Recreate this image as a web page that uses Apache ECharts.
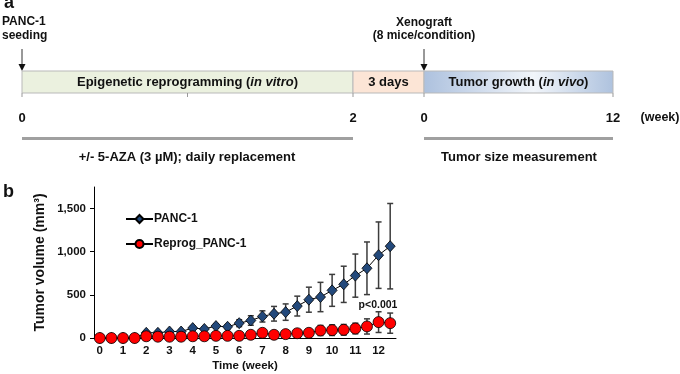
<!DOCTYPE html>
<html>
<head>
<meta charset="utf-8">
<script src="https://cdn.jsdelivr.net/npm/echarts@6/dist/echarts.min.js"></script>
<style>
  html, body { margin: 0; padding: 0; background: #fff; }
  #chart { width: 680px; height: 374px; }
</style>
</head>
<body>
<div id="chart"></div>
<script>
const FONT = '"Liberation Sans", Arial, sans-serif';

// panel a: timeline labels
const phaseLabels = ['Epigenetic reprogramming', '3 days', 'Tumor growth'];
const timelineTicks = ['0', '2', '0', '12'];

// panel b: weeks after xenograft (half-week steps)
const weeks = ['0', '0.5', '1', '1.5', '2', '2.5', '3', '3.5', '4', '4.5', '5', '5.5', '6',
  '6.5', '7', '7.5', '8', '8.5', '9', '9.5', '10', '10.5', '11', '11.5', '12', '12.5'];
const panc1 = [0, 0, 0, 0, 60, 60, 75, 75, 115, 105, 138, 130, 172, 203, 250, 281, 300,
  370, 444, 475, 552, 622, 723, 808, 960, 1064];
const panc1Err = [0, 0, 0, 0, 10, 12, 15, 15, 20, 20, 25, 25, 40, 55, 65, 85, 95,
  115, 145, 170, 185, 210, 250, 305, 385, 495];
const reprog = [0, 0, 0, 0, 20, 15, 15, 15, 20, 20, 25, 25, 25, 37, 60, 37, 45,
  55, 60, 87, 91, 95, 110, 134, 184, 172];
const reprogErr = [0, 0, 0, 0, 5, 5, 5, 5, 5, 5, 6, 6, 8, 15, 25, 20, 25,
  30, 35, 58, 62, 62, 62, 88, 120, 117];
const yTicks = { min: 0, max: 1750, step: 500 };

function errData(vals, errs) {
  const out = [];
  vals.forEach((v, i) => {
    if (errs[i] > 0) out.push([i, v - errs[i], v + errs[i]]);
  });
  return out;
}

function renderErr(params, api) {
  const i = api.value(0);
  const lo = api.coord([i, api.value(1)]);
  const hi = api.coord([i, api.value(2)]);
  const w = 3;
  const style = { stroke: '#3c3c3c', lineWidth: 1.5 };
  return {
    type: 'group',
    children: [
      { type: 'line', shape: { x1: lo[0], y1: lo[1], x2: hi[0], y2: hi[1] }, style },
      { type: 'line', shape: { x1: lo[0] - w, y1: lo[1], x2: lo[0] + w, y2: lo[1] }, style },
      { type: 'line', shape: { x1: hi[0] - w, y1: hi[1], x2: hi[0] + w, y2: hi[1] }, style }
    ]
  };
}

// timeline drawing for panel a
const barTop = 71, barH = 22;
const xs = [22, 353, 424, 613];
const boldTxt = (x, y, text, size, align) => ({
  type: 'text', x, y,
  style: {
    text, font: 'bold ' + size + 'px ' + FONT, fill: '#111',
    align: align || 'center', verticalAlign: 'middle'
  }
});
const richTxt = (x, y, main, ital) => ({
  type: 'text', x, y,
  style: {
    text: '{b|' + main + ' (}{i|' + ital + '}{b|)}',
    align: 'center', verticalAlign: 'middle',
    rich: {
      b: { font: 'bold 13px ' + FONT, fill: '#111' },
      i: { font: 'italic bold 13px ' + FONT, fill: '#111' }
    }
  }
});
const arrow = (x) => [
  { type: 'line', shape: { x1: x, y1: 49, x2: x, y2: 65 }, style: { stroke: '#333', lineWidth: 1 } },
  { type: 'polygon', shape: { points: [[x - 3.5, 64], [x + 3.5, 64], [x, 71]] }, style: { fill: '#111' } }
];

const graphics = [
  boldTxt(4, 3, 'a', 18, 'left'),
  boldTxt(2, 22, 'PANC-1', 12, 'left'),
  boldTxt(2, 36, 'seeding', 12, 'left'),
  boldTxt(424, 23, 'Xenograft', 12),
  boldTxt(424, 36, '(8 mice/condition)', 12),
  ...arrow(xs[0]), ...arrow(xs[2]),
  { type: 'rect', shape: { x: xs[0], y: barTop, width: xs[1] - xs[0], height: barH },
    style: { fill: '#ebf1df', stroke: '#b9b9b9', lineWidth: 1 } },
  { type: 'rect', shape: { x: xs[1], y: barTop, width: xs[2] - xs[1], height: barH },
    style: { fill: '#fce5d6', stroke: '#b9b9b9', lineWidth: 1 } },
  { type: 'rect', shape: { x: xs[2], y: barTop, width: xs[3] - xs[2], height: barH },
    style: {
      fill: new echarts.graphic.LinearGradient(0, 0, 1, 0, [
        { offset: 0, color: '#adc1de' },
        { offset: 0.58, color: '#f1f5fa' },
        { offset: 1, color: '#aec2de' }
      ]),
      stroke: '#b9b9b9', lineWidth: 1
    } },
  richTxt((xs[0] + xs[1]) / 2, 82, phaseLabels[0], 'in vitro'),
  boldTxt((xs[1] + xs[2]) / 2, 82, phaseLabels[1], 13),
  richTxt((xs[2] + xs[3]) / 2, 82, phaseLabels[2], 'in vivo'),
  ...[xs[0], (xs[0] + xs[1]) / 2, xs[1], xs[2], xs[3]].map(x => ({
    type: 'line', shape: { x1: x, y1: 93, x2: x, y2: 97 }, style: { stroke: '#999', lineWidth: 1 }
  })),
  ...timelineTicks.map((t, k) => boldTxt(xs[k], 118, t, 13)),
  boldTxt(660, 118, '(week)', 12.5),
  { type: 'line', shape: { x1: xs[0], y1: 138.5, x2: xs[1], y2: 138.5 }, style: { stroke: '#a0a0a0', lineWidth: 3 } },
  { type: 'line', shape: { x1: xs[2], y1: 138.5, x2: xs[3], y2: 138.5 }, style: { stroke: '#a0a0a0', lineWidth: 3 } },
  boldTxt(187, 157, '+/- 5-AZA (3 \u00b5M); daily replacement', 13),
  boldTxt(519, 157, 'Tumor size measurement', 13),
  boldTxt(3, 192, 'b', 18, 'left'),
  boldTxt(378, 305, 'p<0.001', 10.5)
];

const chart = echarts.init(document.getElementById('chart'), null, { renderer: 'canvas' });
chart.setOption({
  animation: false,
  textStyle: { fontFamily: FONT },
  graphic: graphics,
  grid: { left: 94, right: 284, top: 187, bottom: 36 },
  legend: {
    orient: 'vertical',
    left: 120, top: 208,
    itemWidth: 27, itemHeight: 10, itemGap: 13,
    textStyle: { fontFamily: FONT, fontWeight: 'bold', fontSize: 12, color: '#111', padding: [0, 0, 0, -4] },
    data: ['PANC-1', 'Reprog_PANC-1']
  },
  xAxis: {
    type: 'category',
    data: weeks,
    boundaryGap: true,
    name: 'Time (week)',
    nameLocation: 'middle',
    nameGap: 22,
    nameTextStyle: { fontFamily: FONT, fontWeight: 'bold', fontSize: 11.5, color: '#111' },
    axisLine: { lineStyle: { color: '#000', width: 1 } },
    axisTick: { alignWithLabel: true, interval: 0, length: 3, lineStyle: { color: '#000' } },
    axisLabel: { interval: 1, margin: 7, fontFamily: FONT, fontWeight: 'bold', fontSize: 11.5, color: '#111' },
    splitLine: { show: false }
  },
  yAxis: {
    type: 'value',
    min: yTicks.min, max: yTicks.max, interval: yTicks.step,
    name: 'Tumor volume (mm\u00b3)',
    nameLocation: 'middle',
    nameGap: 47,
    nameTextStyle: { fontFamily: FONT, fontWeight: 'bold', fontSize: 14, color: '#111' },
    axisLine: { show: true, lineStyle: { color: '#000', width: 1 } },
    axisTick: { show: true, length: 4, lineStyle: { color: '#000' } },
    axisLabel: {
      showMaxLabel: false, margin: 8,
      fontFamily: FONT, fontWeight: 'bold', fontSize: 11.5, color: '#111',
      formatter: v => v.toLocaleString('en-US')
    },
    splitLine: { show: false }
  },
  series: [
    {
      type: 'custom', name: 'err1', renderItem: renderErr,
      data: errData(panc1, panc1Err), encode: { x: 0, y: [1, 2] }, z: 1, silent: true
    },
    {
      type: 'custom', name: 'err2', renderItem: renderErr,
      data: errData(reprog, reprogErr), encode: { x: 0, y: [1, 2] }, z: 1, silent: true
    },
    {
      name: 'PANC-1', type: 'line', data: panc1, z: 3,
      symbol: 'diamond', symbolSize: [10, 11], showAllSymbol: true,
      lineStyle: { color: '#000', width: 1 },
      itemStyle: { color: '#23497b', borderColor: '#000', borderWidth: 0.8 }
    },
    {
      name: 'Reprog_PANC-1', type: 'line', data: reprog, z: 4,
      symbol: 'circle', symbolSize: 11, showAllSymbol: true,
      lineStyle: { color: '#000', width: 1 },
      itemStyle: { color: '#ff0000', borderColor: '#000', borderWidth: 0.8 }
    }
  ]
});
</script>
</body>
</html>
